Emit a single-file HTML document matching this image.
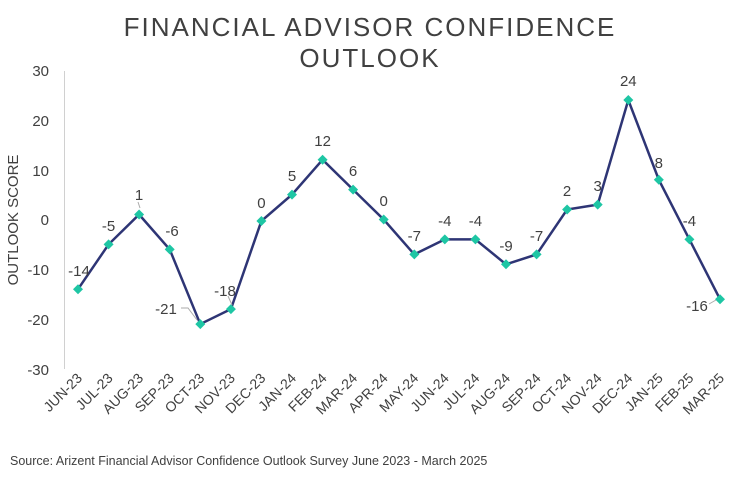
<!DOCTYPE html>
<html><head><meta charset="utf-8"><style>body{margin:0;background:#fff}svg{display:block;font-family:"Liberation Sans",sans-serif}</style></head><body>
<svg width="740" height="502" viewBox="0 0 740 502">
<text x="370" y="36" text-anchor="middle" font-size="26" fill="#404040" letter-spacing="2">FINANCIAL ADVISOR CONFIDENCE</text>
<text x="370" y="67" text-anchor="middle" font-size="26" fill="#404040" letter-spacing="2">OUTLOOK</text>
<line x1="64.5" y1="71" x2="64.5" y2="369" stroke="#d0d0d0"/>
<g font-size="15" fill="#404040" text-anchor="end">
<text x="49" y="76">30</text><text x="49" y="126">20</text><text x="49" y="176">10</text><text x="49" y="225">0</text><text x="49" y="275">-10</text><text x="49" y="325">-20</text><text x="49" y="375">-30</text>
</g>
<text transform="translate(18,220) rotate(-90)" text-anchor="middle" font-size="15" fill="#404040">OUTLOOK SCORE</text>
<path d="M78 289.2L108.6 244.4L139.1 214.5L169.7 249.4L200.3 324.1L230.9 309.1L261.4 221L292 194.6L322.6 159.7L353.1 189.6L383.7 219.5L414.3 254.4L444.8 239.4L475.4 239.4L506 264.3L536.6 254.4L567.1 209.5L597.7 204.6L628.3 100L658.8 179.7L689.4 239.4L720 299.2" fill="none" stroke="#2e3575" stroke-width="2.5"/>
<g fill="#1ec6a4">
<path d="M78 284.2l5 5l-5 5l-5 -5z"/><path d="M108.6 239.4l5 5l-5 5l-5 -5z"/><path d="M139.1 209.5l5 5l-5 5l-5 -5z"/><path d="M169.7 244.4l5 5l-5 5l-5 -5z"/><path d="M200.3 319.1l5 5l-5 5l-5 -5z"/><path d="M230.9 304.1l5 5l-5 5l-5 -5z"/><path d="M261.4 216l5 5l-5 5l-5 -5z"/><path d="M292 189.6l5 5l-5 5l-5 -5z"/><path d="M322.6 154.7l5 5l-5 5l-5 -5z"/><path d="M353.1 184.6l5 5l-5 5l-5 -5z"/><path d="M383.7 214.5l5 5l-5 5l-5 -5z"/><path d="M414.3 249.4l5 5l-5 5l-5 -5z"/><path d="M444.8 234.4l5 5l-5 5l-5 -5z"/><path d="M475.4 234.4l5 5l-5 5l-5 -5z"/><path d="M506 259.3l5 5l-5 5l-5 -5z"/><path d="M536.6 249.4l5 5l-5 5l-5 -5z"/><path d="M567.1 204.5l5 5l-5 5l-5 -5z"/><path d="M597.7 199.6l5 5l-5 5l-5 -5z"/><path d="M628.3 95l5 5l-5 5l-5 -5z"/><path d="M658.8 174.7l5 5l-5 5l-5 -5z"/><path d="M689.4 234.4l5 5l-5 5l-5 -5z"/><path d="M720 294.2l5 5l-5 5l-5 -5z"/>
</g>
<g stroke="#aaa" fill="none" stroke-width="1"><path d="M181 308L188 308L197 320"/><path d="M228 296L232 305"/><path d="M709 304L716 300"/><path d="M138 202L140 208"/></g>
<g font-size="15" fill="#404040" text-anchor="middle">
<text x="79" y="276">-14</text><text x="108.6" y="231">-5</text><text x="139.1" y="200">1</text><text x="172" y="236">-6</text><text x="166" y="314">-21</text><text x="225" y="296">-18</text><text x="261.4" y="208">0</text><text x="292" y="181">5</text><text x="322.6" y="146">12</text><text x="353.1" y="176">6</text><text x="383.7" y="206">0</text><text x="414.3" y="241">-7</text><text x="444.8" y="226">-4</text><text x="475.4" y="226">-4</text><text x="506" y="251">-9</text><text x="536.6" y="241">-7</text><text x="567.1" y="196">2</text><text x="597.7" y="191">3</text><text x="628.3" y="86">24</text><text x="658.8" y="168">8</text><text x="689.4" y="226">-4</text><text x="697" y="311">-16</text>
</g>
<g font-size="14" fill="#404040" text-anchor="end">
<text transform="translate(83,379) rotate(-45)">JUN-23</text><text transform="translate(113.6,379) rotate(-45)">JUL-23</text><text transform="translate(144.1,379) rotate(-45)">AUG-23</text><text transform="translate(174.7,379) rotate(-45)">SEP-23</text><text transform="translate(205.3,379) rotate(-45)">OCT-23</text><text transform="translate(235.9,379) rotate(-45)">NOV-23</text><text transform="translate(266.4,379) rotate(-45)">DEC-23</text><text transform="translate(297,379) rotate(-45)">JAN-24</text><text transform="translate(327.6,379) rotate(-45)">FEB-24</text><text transform="translate(358.1,379) rotate(-45)">MAR-24</text><text transform="translate(388.7,379) rotate(-45)">APR-24</text><text transform="translate(419.3,379) rotate(-45)">MAY-24</text><text transform="translate(449.8,379) rotate(-45)">JUN-24</text><text transform="translate(480.4,379) rotate(-45)">JUL-24</text><text transform="translate(511,379) rotate(-45)">AUG-24</text><text transform="translate(541.6,379) rotate(-45)">SEP-24</text><text transform="translate(572.1,379) rotate(-45)">OCT-24</text><text transform="translate(602.7,379) rotate(-45)">NOV-24</text><text transform="translate(633.3,379) rotate(-45)">DEC-24</text><text transform="translate(663.8,379) rotate(-45)">JAN-25</text><text transform="translate(694.4,379) rotate(-45)">FEB-25</text><text transform="translate(725,379) rotate(-45)">MAR-25</text>
</g>
<text x="10" y="465" font-size="12.5" fill="#404040">Source: Arizent Financial  Advisor Confidence Outlook Survey June 2023 - March 2025</text>
</svg>
</body></html>
